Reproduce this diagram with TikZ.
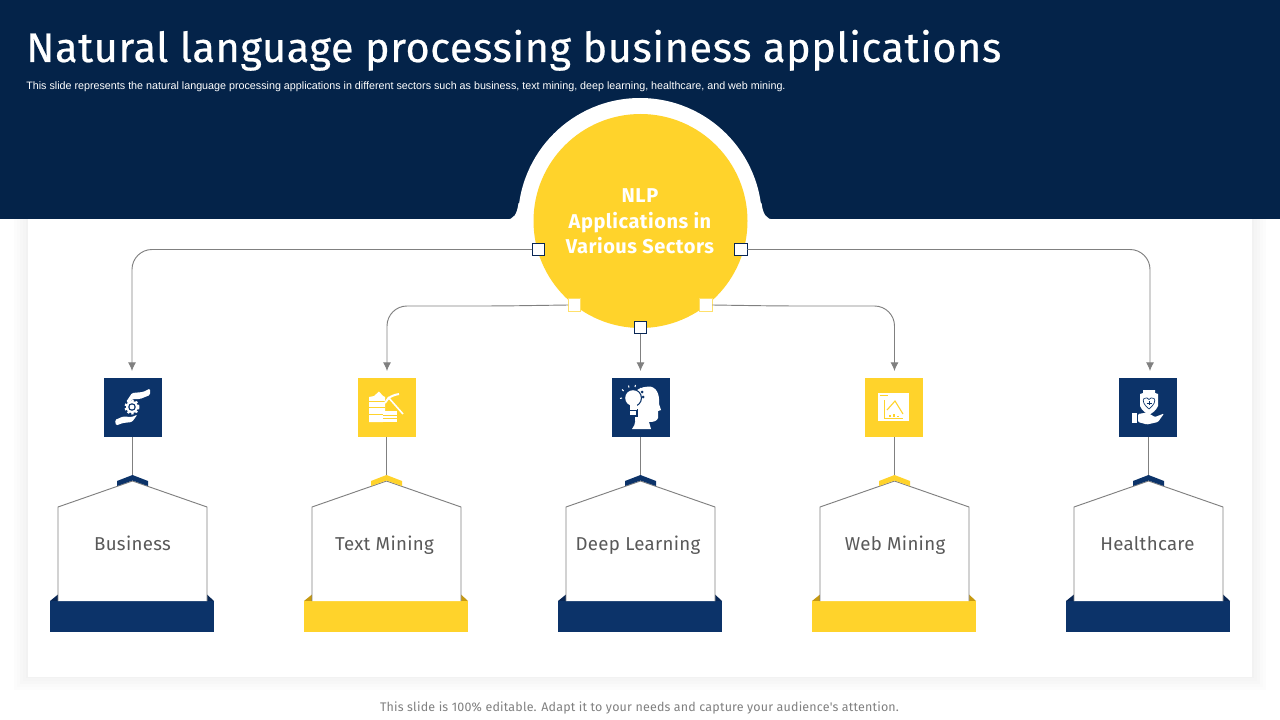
\documentclass[tikz,border=0pt]{standalone}
\usepackage{fontspec}
\setmainfont{Fira Sans}
\newfontfamily\dinfont[LetterSpace=1.6]{Fira Sans}
\newfontfamily\hubfont[LetterSpace=2.6]{Fira Sans}
\newfontfamily\titlefont[LetterSpace=1.5,FakeBold=0.5]{Fira Sans}
\newfontfamily\notefont[LetterSpace=1.6]{Fira Sans}
\newfontfamily\arialfont{Liberation Sans}
\usetikzlibrary{arrows.meta}
\definecolor{headnavy}{HTML}{042349}
\definecolor{navyc}{HTML}{0C3369}
\definecolor{navyd}{HTML}{082654}
\definecolor{yell}{HTML}{FFD32B}
\definecolor{yelld}{HTML}{C79A10}
\definecolor{linec}{HTML}{808080}
\definecolor{labelc}{HTML}{595959}
\tikzset{
  conn/.style={draw=linec,line width=0.7pt,rounded corners=15pt,-{Latex[length=6.5pt,width=6pt]}},
  stemline/.style={draw=linec,line width=0.7pt},
  handle/.style={draw=navyd,fill=white,line width=0.7pt,minimum size=9.5pt,inner sep=0pt,outer sep=0pt},
  handley/.style={draw=yell!70!white,fill=white,line width=0.7pt,minimum size=9.5pt,inner sep=0pt,outer sep=0pt},
  iconbox/.style={minimum width=43.5pt,minimum height=44.25pt,inner sep=0pt,outer sep=0pt},
  houseline/.style={draw=linec,fill=white,line width=0.7pt},
  lab/.style={text=labelc,font=\dinfont\fontsize{14}{16}\selectfont,inner sep=0pt,anchor=base},
}
\begin{document}
\begin{tikzpicture}[x=0.75pt,y=-0.75pt]
\useasboundingbox (0,0) rectangle (1280,720);
\fill[white] (0,0) rectangle (1280,720);
% card with soft shadow
\foreach \g/\d in {99/14,98/11,97/8,96/5,95/2}{
  \fill[black!\the\numexpr100-\g\relax!white] (28-\d,210) rectangle (1252+\d,677+\d-1);
}
\fill[white] (28,210) rectangle (1252,677);
% header
\fill[headnavy] (0,0) rectangle (1280,219);
\fill[white] (640,220) circle (122);
\fill[white] (506,219.5) .. controls (514,219.5) and (517,214) .. (518.5,203) -- (530,219.5) -- cycle;
\fill[white] (774,219.5) .. controls (766,219.5) and (763,214) .. (761.5,203) -- (750,219.5) -- cycle;
\node[anchor=base west,inner sep=0pt,text=white,font=\titlefont\fontsize{31}{34}\selectfont] (title) at (26,62) {Natural language processing business applications};
\node[anchor=base west,inner sep=0pt,text=white,font=\arialfont\fontsize{8.05}{9}\selectfont] (sub) at (26,89.5) {This slide represents the natural language processing applications in different sectors such as business, text mining, deep learning, healthcare, and web mining.};
% connector ends
\coordinate (a1) at (132,371);
\coordinate (a2) at (387,371);
\coordinate (a3) at (640.5,371);
\coordinate (a4) at (894.5,371);
\coordinate (a5) at (1150,371);
% hub
\node[circle,fill=yell,minimum size=160.5pt,inner sep=0pt,outer sep=0pt] (hub) at (640.5,221) {};
\node[inner sep=0pt,text=white,font=\hubfont\bfseries\fontsize{15}{19}\selectfont,align=center] (hubtext) at (640,221.5) {NLP\\Applications in\\Various Sectors};
\node[handle] (hL) at (538.5,249.5) {};
\node[handle] (hR) at (741,249.5) {};
\node[handley] (hl) at (574.5,305) {};
\node[handley] (hr) at (706,305) {};
\node[handle] (hC) at (640.5,327.5) {};
\draw[conn] (hL.west) -| (a1);
\draw[conn] (hl.west) -- (500,306) -| (a2);
\draw[conn] (hC.south) -- (a3);
\draw[conn] (hr.east) -- (780,306) -| (a4);
\draw[conn] (hR.east) -| (a5);
% five columns
\foreach \n/\cx/\ix/\fc/\dc/\t/\tx in {
  1/132.5/133/navyc/navyd/Business/132.5,
  2/386.5/387/yell/yelld/Text Mining/384.5,
  3/640.5/640.5/navyc/navyd/Deep Learning/638,
  4/894.5/894/yell/yelld/Web Mining/895,
  5/1148.5/1148/navyc/navyd/Healthcare/1147.5}{
  \node[iconbox,fill=\fc] (i\n) at (\ix,407.5) {};
  \coordinate (s\n) at (\cx,478);
  \draw[stemline] (i\n.south -| s\n) -- (s\n);
  % base
  \fill[\dc] (\cx-82.5,601) -- (\cx-74.5,594.5) -- (\cx-74.5,602) -- cycle;
  \fill[\dc] (\cx+81.5,601) -- (\cx+74.5,594.5) -- (\cx+74.5,602) -- cycle;
  \fill[\fc] (\cx-82.5,601) rectangle (\cx+81.5,632);
  % house
  \draw[houseline] (\cx-74.5,601) -- (\cx-74.5,507) -- (\cx,481) -- (\cx+74.5,507) -- (\cx+74.5,601);
  \fill[\fc] (\cx-15.5,481) -- (\cx,475) -- (\cx+15.5,481) -- (\cx+15.5,486) -- (\cx,480.5) -- (\cx-15.5,486) -- cycle;
  \node[lab] (t\n) at (\tx,550) {\t};
}
% icon 1: hands and gear
\fill[white,rounded corners=1pt] (126,402) -- (132,393) -- (143,392) -- (150,388.5) -- (150,395) -- (140,399) -- (132,399) -- (130,403) -- cycle;
\fill[white,rounded corners=1pt] (115,420) -- (123,416.5) -- (132,417) -- (137.5,414.5) -- (132,422) -- (123,423) -- (116,425.5) -- cycle;
\draw[white,line width=1.5pt,dash pattern=on 1.7pt off 1.5pt] (132,407) circle (6.5);
\fill[white] (132,407) circle (6);
\fill[navyc] (132,407) circle (3.8);
\fill[white] (132,407) circle (2.4);
% icon 2: records and pickaxe
\fill[white] (369,397) -- (374,396) -- (379,391.5) -- (383,396) -- (385,397) -- (385,411) -- (383,411) -- (383,422) -- (369,422) -- cycle;
\foreach \yy in {401,407,414}{\fill[yell] (369,\yy) rectangle (385,\yy+0.9);}
\fill[white] (383,411) rectangle (397,422);
\foreach \yy in {414.5,418}{\fill[yell] (383,\yy) rectangle (397,\yy+0.9);}
\draw[white,line width=1.2pt] (388,397) -- (403,414);
\draw[white,line width=1.5pt] (385,403) .. controls (388,397) and (393,395) .. (399,394);
% icon 3: head and bulb
\fill[white] (632,429) .. controls (636,424) and (636,419) .. (634,412) -- (632,396) .. controls (634,390) and (642,386.5) .. (649,386.5) .. controls (656,386.5) and (660,394) .. (659,404) -- (661,410) -- (658,411) -- (658,418) .. controls (657,421) and (654,422) .. (649,422) -- (651,429) -- cycle;
\fill[navyc] (633,398) circle (9);
\fill[navyc] (628,409) rectangle (638,416.5);
\fill[white] (633,398) circle (7.8);
\fill[white] (629.5,404) rectangle (636.5,410);
\fill[white] (630,411) rectangle (636,415);
\fill[navyc] (642,392) circle (1.5);
\fill[navyc] (643,397) circle (1.5);
\foreach \xa/\ya/\xb/\yb in {622/398/620/398.5, 623.5/391/622/389.5, 629/387.5/628.5/385.5, 635/387/635.5/385, 640/389.5/641/388}{
  \draw[white,line width=0.8pt] (\xa,\ya) -- (\xb,\yb);}
% icon 4: chart
\fill[white] (878,393) rectangle (909,421);
\draw[yell,line width=0.5pt] (880,395) -- (888,395);
\draw[yell,line width=0.6pt] (884,400) -- (884,418) -- (903,418);
\draw[yell,line width=0.8pt] (887,410) -- (895,401) -- (903,414);
\foreach \xx/\yy in {889/415,893/414,897/416}{\fill[yell] (\xx,\yy) rectangle (\xx+2,417);}
% icon 5: shield and hand
\fill[white] (1143,390) -- (1155,390) -- (1155,393) -- (1158,394) -- (1158,406) .. controls (1156,411) and (1152,413) .. (1149,415) .. controls (1146,413) and (1142,411) .. (1140,406) -- (1140,394) -- (1143,393) -- cycle;
\draw[navyc,line width=0.5pt] (1149,409) .. controls (1144,405) and (1142,401) .. (1144,398.5) .. controls (1146,397) and (1148,398) .. (1149,399.5) .. controls (1150,398) and (1152,397) .. (1154,398.5) .. controls (1156,401) and (1154,405) .. (1149,409) -- cycle;
\draw[navyc,line width=0.7pt] (1146.5,403) -- (1151.5,403) (1149,401) -- (1149,405);
\fill[white] (1132,413) rectangle (1137,422.5);
\fill[white,rounded corners=0.8pt] (1138,414) -- (1147,412.5) -- (1155,417) -- (1164,413.5) -- (1158,422) -- (1147,424.5) -- (1138,422) -- cycle;
% footer
\node[anchor=base,inner sep=0pt,text=linec,font=\notefont\fontsize{9.35}{11}\selectfont] (foot) at (639.5,711.5) {This slide is 100\% editable. Adapt it to your needs and capture your audience's attention.};
\end{tikzpicture}
\end{document}
